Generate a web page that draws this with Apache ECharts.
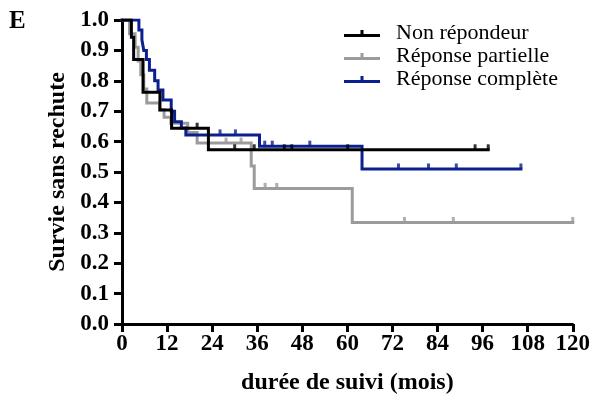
<!DOCTYPE html>
<html>
<head>
<meta charset="utf-8">
<script src="https://cdn.jsdelivr.net/npm/echarts@6/dist/echarts.min.js"></script>
<style>
html,body{margin:0;padding:0;background:#fff;}
#c{width:593px;height:400px;}
</style>
</head>
<body>
<div id="c"></div>
<script>
// ---- data ----
var seriesNames = ['Non répondeur', 'Réponse partielle', 'Réponse complète'];
var xTicks = [0, 12, 24, 36, 48, 60, 72, 84, 96, 108, 120];

// Non répondeur (black) step curve
var nonRepTimes  = [0, 2.5, 3.1, 5.6, 10.1, 13.2, 23.0, 97.5];
var nonRepSurv   = [1.0, 0.943, 0.87, 0.762, 0.704, 0.644, 0.573, 0.573];
var nonRepCensT  = [20.0, 30.0, 35.2, 43.2, 45.2, 60.1, 94.0, 97.5];
var nonRepCensS  = [0.644, 0.573, 0.573, 0.573, 0.573, 0.573, 0.573, 0.573];

// Réponse partielle (gray)
var partTimes = [0, 2.0, 3.5, 4.3, 5.0, 5.8, 6.6, 10.0, 11.2, 13.0, 17.5, 20.0, 34.4, 35.2, 61.3, 120];
var partSurv  = [1.0, 0.955, 0.91, 0.865, 0.82, 0.773, 0.727, 0.705, 0.68, 0.66, 0.63, 0.595, 0.52, 0.446, 0.334, 0.334];
var partCensT = [27.7, 31.7, 38.1, 41.2, 75.2, 88.2, 120];
var partCensS = [0.595, 0.595, 0.446, 0.446, 0.334, 0.334, 0.334];

// Réponse complète (blue)
var compTimes = [0, 4.5, 5.3, 5.8, 6.5, 7.3, 8.7, 9.6, 10.9, 13.1, 14.0, 15.8, 17.0, 36.6, 63.9, 106.2];
var compSurv  = [1.0, 0.967, 0.935, 0.90, 0.87, 0.835, 0.80, 0.77, 0.737, 0.70, 0.665, 0.645, 0.622, 0.585, 0.51, 0.51];
var compCensT = [26.1, 30.2, 38.0, 40.0, 50.0, 73.6, 81.6, 89.0, 106.2];
var compCensS = [0.622, 0.622, 0.585, 0.585, 0.585, 0.51, 0.51, 0.51, 0.51];

var colors = ['#000000', '#9b9b9b', '#0b1f8e'];

function pairs(t, s) { return t.map(function (v, i) { return [v, s[i]]; }); }

var chart = echarts.init(document.getElementById('c'), null, {renderer: 'canvas'});
var serif = '"Liberation Serif", "Times New Roman", serif';
var legendIcon = 'path://M0,4L36,4L36,7L0,7Z M16.5,0L19.5,0L19.5,4L16.5,4Z';

function stepSeries(name, t, s, color, z) {
  return {
    name: name, type: 'line', step: 'end', data: pairs(t, s),
    showSymbol: false, symbol: 'none', z: z,
    lineStyle: {color: color, width: 3, cap: 'square', join: 'miter'},
    itemStyle: {color: color}, animation: false
  };
}
function censSeries(name, t, s, color, z) {
  return {
    name: name + ' censure', type: 'scatter', data: pairs(t, s), z: z,
    symbol: 'rect', symbolSize: [3, 5], symbolOffset: [0, -3],
    itemStyle: {color: color}, silent: true, animation: false
  };
}

var option = {
  backgroundColor: '#ffffff',
  animation: false,
  grid: {left: 122, right: 18, top: 20, bottom: 76, containLabel: false},
  legend: {
    data: seriesNames.map(function (n) { return {name: n, icon: legendIcon}; }),
    orient: 'vertical', left: 344, top: 22, padding: 0, itemWidth: 36, itemHeight: 7, itemGap: 0,
    textStyle: {fontFamily: serif, fontSize: 22, color: '#000', lineHeight: 23, padding: [0, 0, 0, 11]},
    selectedMode: false
  },
  xAxis: {
    type: 'value', min: 0, max: 120, interval: 12,
    name: 'durée de suivi (mois)', nameLocation: 'middle', nameGap: 47,
    nameTextStyle: {fontFamily: serif, fontSize: 24, fontWeight: 'bold', color: '#000'},
    axisLine: {onZero: false, lineStyle: {color: '#000', width: 3}},
    axisTick: {length: 8, lineStyle: {color: '#000', width: 3}},
    axisLabel: {fontFamily: serif, fontSize: 23, fontWeight: 'bold', color: '#000', margin: 9,
      formatter: function (v) { return xTicks.indexOf(v) >= 0 ? String(v) : ''; }},
    splitLine: {show: false}
  },
  yAxis: {
    type: 'value', min: 0, max: 1, interval: 0.1,
    name: 'Survie sans rechute', nameLocation: 'middle', nameGap: 44,
    nameTextStyle: {fontFamily: serif, fontSize: 24, fontWeight: 'bold', color: '#000'},
    axisLine: {onZero: false, lineStyle: {color: '#000', width: 3}},
    axisTick: {length: 8, lineStyle: {color: '#000', width: 3}},
    axisLabel: {fontFamily: serif, fontSize: 23, fontWeight: 'bold', color: '#000', margin: 13,
      formatter: function (v) { return v.toFixed(1); }},
    splitLine: {show: false}
  },
  graphic: [{
    type: 'text', left: 9, top: 9,
    style: {text: 'E', font: 'bold 25px ' + serif, fill: '#000'}
  }],
  series: [
    stepSeries(seriesNames[1], partTimes, partSurv, colors[1], 2),
    censSeries(seriesNames[1], partCensT, partCensS, colors[1], 2),
    stepSeries(seriesNames[2], compTimes, compSurv, colors[2], 3),
    censSeries(seriesNames[2], compCensT, compCensS, colors[2], 3),
    stepSeries(seriesNames[0], nonRepTimes, nonRepSurv, colors[0], 4),
    censSeries(seriesNames[0], nonRepCensT, nonRepCensS, colors[0], 4)
  ]
};
chart.setOption(option);
</script>
</body>
</html>
